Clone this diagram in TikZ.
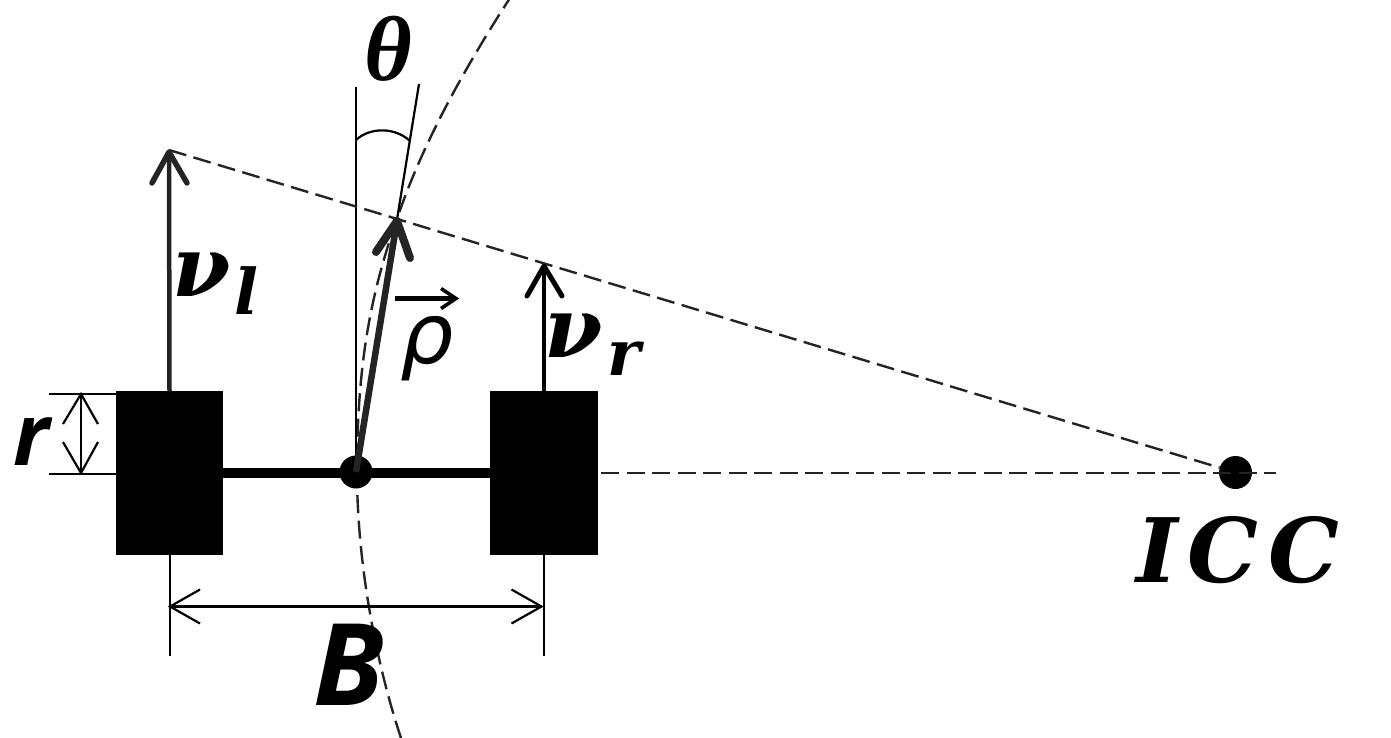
\documentclass[tikz,border=0pt]{standalone}
\usepackage{fontspec}
\usetikzlibrary{calc}
\newfontfamily\sbi{DejaVu Serif}[BoldItalicFont={DejaVu Serif Bold Italic},ItalicFont={DejaVu Serif Italic}]
\newfontfamily\lib{Liberation Serif}
\newfontfamily\dsans{DejaVu Sans}
\newfontfamily\osans{Open Sans}
\newcommand{\px}[2]{\fontsize{#1}{#1}\selectfont #2}
\definecolor{ink}{HTML}{242424}
\tikzset{
  wheel/.style={draw=none,fill=black,inner sep=0pt,minimum width=107.5pt,minimum height=164pt},
  hub/.style={circle,fill=black,inner sep=0pt,minimum size=33pt},
  label/.style={inner sep=0pt,anchor=base west},
  thin line/.style={line width=2.2pt,black},
  dash line/.style={line width=2.4pt,ink,dash pattern=on 18pt off 7.5pt},
  barb/.style={line cap=round,line join=round}
}
\begin{document}
\begin{tikzpicture}[x=1pt,y=-1pt]
\useasboundingbox (0,0) rectangle (1391,738);
\coordinate (tipL) at (169,152);
\coordinate (tipR) at (544,266);
\coordinate (tipM) at (397,221);
\coordinate (vtop) at (356,87);
\coordinate (ttop) at (419,84);
\coordinate (arcA) at (356,140);
\coordinate (arcB) at (410,141);
\coordinate (dashA) at (601,473);
\coordinate (dashB) at (1276,473);
\coordinate (rA) at (116,394);
\coordinate (rAe) at (49,394);
\coordinate (rB) at (116,474);
\coordinate (rBe) at (49,474);
\coordinate (rU) at (81,394);
\coordinate (rD) at (81,473);
\coordinate (bL) at (170,555);
\coordinate (bLe) at (170,656);
\coordinate (bR) at (544,555);
\coordinate (bRe) at (544,656);
\coordinate (dL) at (170,606.5);
\coordinate (dR) at (541.5,606.5);
\coordinate (rhoA) at (395,298.5);
\coordinate (rhoB) at (456,298.5);
\coordinate (arcS) at (357,472);
\coordinate (arcT) at (510,-2);
\coordinate (arcE) at (401,738);
\coordinate (lineL) at (169,150);
\coordinate (lineT) at (397,219);
% dashed arc
\draw[dash line] (arcE) .. controls (375,660) and (357,560) .. (arcS) .. controls (357,360) and (372,290) .. (lineT) .. controls (420,150) and (460,75) .. (arcT);
% nodes
\node[wheel] (wl) at (169.5,473) {};
\node[wheel] (wr) at (544,473) {};
\node[hub] (c) at (356,472) {};
\node[hub] (icc) at (1235.5,472.5) {};
% guide lines
\draw[thin line] (c.center) -- (vtop);
\draw[thin line] (c.center) -- (ttop);
\draw[thin line] (arcA) .. controls (370,127) and (395,127) .. (arcB);
% axle
\draw[line width=10.5pt,black] (wl) -- (wr);
% dashed
\draw[dash line] (lineL) -- (icc);
\draw[dash line] (dashA) -- (dashB);
% velocity arrows
\draw[line width=4.5pt,ink] (wl.north) -- (tipL);
\draw[barb,line width=5.5pt,ink] ($(tipL)+(-17,31)$) -- (tipL) -- ($(tipL)+(18,31)$);
\draw[line width=4.5pt,black] (wr.north) -- (tipR);
\draw[barb,line width=5pt,black] ($(tipR)+(-17,30)$) -- (tipR) -- ($(tipR)+(18,30)$);
\draw[line width=6.5pt,ink] (c.center) -- (tipM);
\draw[barb,line width=8pt,ink] ($(tipM)+(-21,31)$) -- (tipM) -- ($(tipM)+(13,37)$);
% dimensions
\draw[thin line] (rA) -- (rAe);
\draw[thin line] (rB) -- (rBe);
\draw[thin line] (rU) -- (rD);
\draw[thin line] ($(rU)+(-18,30)$) -- (rU) -- ($(rU)+(17,30)$);
\draw[thin line] ($(rD)+(-18,-31)$) -- (rD) -- ($(rD)+(17,-31)$);
\draw[thin line] (bL) -- (bLe);
\draw[thin line] (bR) -- (bRe);
\draw[thin line] (dL) -- (dR);
\draw[thin line] ($(dL)+(30,-17)$) -- (dL) -- ($(dL)+(30,17)$);
\draw[thin line] ($(dR)+(-30,-17)$) -- (dR) -- ($(dR)+(-30,17)$);
% rho arrow
\draw[line width=5pt,black] (rhoA) -- (rhoB);
\draw[line width=3.5pt,black] ($(rhoB)+(-15,-10)$) -- (rhoB) -- ($(rhoB)+(-15,10)$);
% labels
\node[label] (theta) at (364,81) {\lib\bfseries\itshape\px{92}{θ}};
\node[label] (rho) at (400,363) {\dsans\itshape\px{84}{ρ}};
\node[label] (vl) at (172,296) {\sbi\bfseries\itshape\px{84}{ν}};
\node[label] (l) at (234,314) {\sbi\bfseries\itshape\px{63}{l}};
\node[label] (vr) at (544,357) {\sbi\bfseries\itshape\px{84}{ν}};
\node[label] (rr) at (607,375) {\sbi\bfseries\itshape\px{63}{r}};
\node[label] (rl) at (13,465) {\osans\bfseries\itshape\px{86}{r}};
\node[label] (bb) at (313,705) {\osans\bfseries\itshape\px{114}{B}};
\node[label] (i) at (1136,582) {\sbi\bfseries\itshape\px{89}{I\kern10pt C\kern10pt C}};
\end{tikzpicture}
\end{document}
